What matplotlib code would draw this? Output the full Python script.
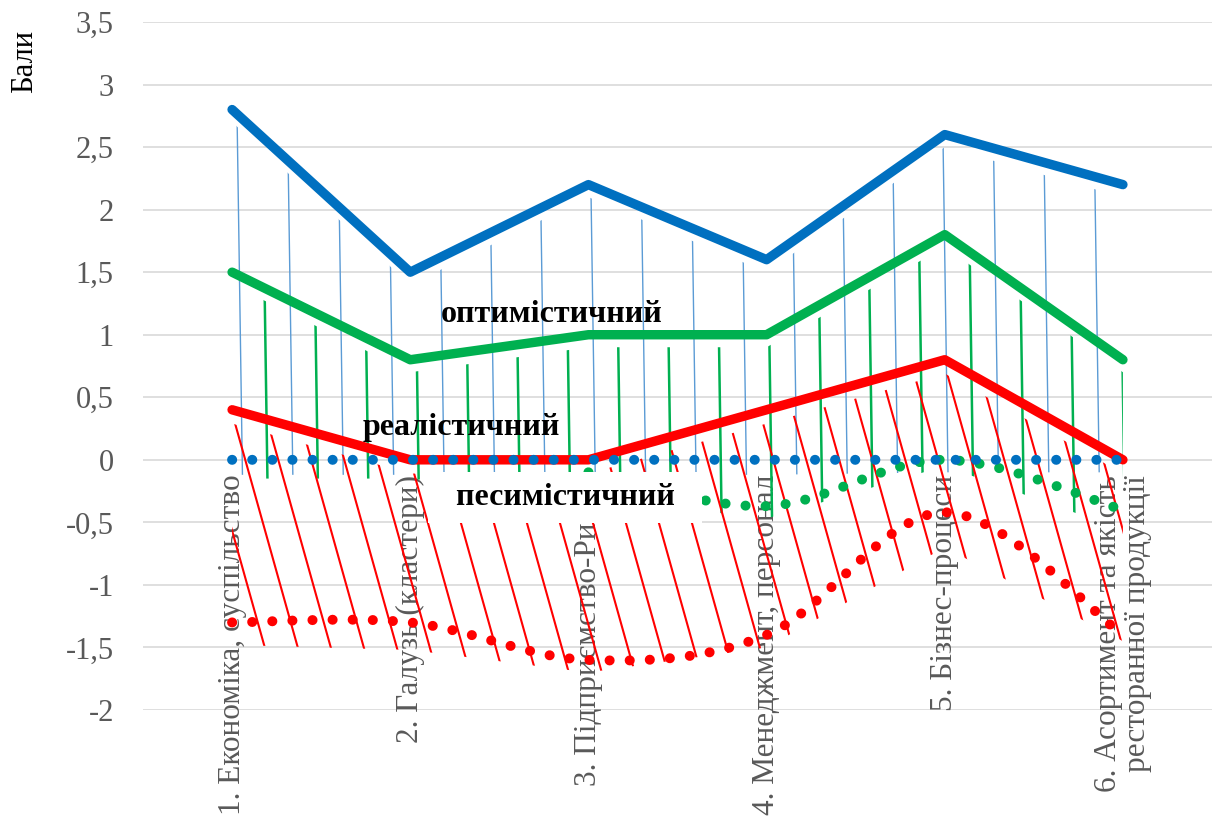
import numpy as np
import matplotlib
matplotlib.use('Agg')
import matplotlib.pyplot as plt
from matplotlib.path import Path
from matplotlib.patches import PathPatch, Polygon
from matplotlib.collections import LineCollection

CATEGORIES = [
    '1. Економіка, суспільство',
    '2. Галузь (кластери)',
    '3. Підприємство-Ринок',
    '4. Менеджмент, персонал',
    '5. Бізнес-процеси',
    '6. Асортимент та якість\nресторанної продукції',
]

BLUE_SCORES = [2.8, 1.5, 2.2, 1.6, 2.6, 2.2]
GREEN_SCORES = [1.5, 0.8, 1.0, 1.0, 1.8, 0.8]
RED_SCORES = [0.4, 0.0, 0.0, 0.4, 0.8, 0.0]

BLUE_DOTTED = [0.0, 0.0, 0.0, 0.0, 0.0, 0.0]
GREEN_DOTTED = [np.nan, np.nan, -0.1, -0.37, 0.0, -0.4]
RED_DOTTED = [-1.3, -1.3, -1.6, -1.4, -0.42, -1.4]

# lower edges of the hand drawn hatching under each line
BLUE_HATCH_FLOOR = [-0.12, -0.12, -0.12, -0.12, -0.1, -0.1]
GREEN_HATCH_FLOOR = [-0.15, -0.15, -0.3, -0.47, -0.05, -0.56]
RED_HATCH_FLOOR = [-1.48, -1.52, -1.7, -1.5, -0.7, -1.45]

Y_TICKS = [-2, -1.5, -1, -0.5, 0, 0.5, 1, 1.5, 2, 2.5, 3, 3.5]
Y_TICK_LABELS = ['-2', '-1,5', '-1', '-0,5', '0', '0,5', '1', '1,5', '2', '2,5', '3', '3,5']

BLUE = '#0070C0'
LIGHT_BLUE = '#5B9BD5'
GREEN = '#00B050'
RED = '#FF0000'
GRID = '#D9D9D9'
TEXT_GRAY = '#595959'

FIG_W, FIG_H = 1214, 827
AX_LEFT, AX_RIGHT, AX_TOP, AX_BOTTOM = 143, 1212, 22, 710
Y_MIN, Y_MAX = -2, 3.5
PX_PER_X = (AX_RIGHT - AX_LEFT) / 6
PX_PER_Y = (AX_BOTTOM - AX_TOP) / (Y_MAX - Y_MIN)


def smooth_path(xs, ys):
    # excel style smoothed line: catmull-rom turned into bezier segments
    pts = np.column_stack([xs, ys]).astype(float)
    pts = pts[np.isfinite(pts[:, 1])]
    n = len(pts)
    verts = [pts[0]]
    codes = [Path.MOVETO]
    for i in range(n - 1):
        p_prev = pts[max(i - 1, 0)]
        p_next2 = pts[min(i + 2, n - 1)]
        verts += [pts[i] + (pts[i + 1] - p_prev) / 6,
                  pts[i + 1] - (p_next2 - pts[i]) / 6,
                  pts[i + 1]]
        codes += [Path.CURVE4] * 3
    return Path(verts, codes)


def dotted(ax, values, color):
    path = smooth_path(np.arange(len(values)), values)
    patch = PathPatch(path, facecolor='none', edgecolor=color, lw=7.2,
                      linestyle=(0, (0.01, 2.0)), capstyle='round', zorder=4)
    ax.add_patch(patch)


def hatch(ax, top, floor, anchors, y_anchor, slope, color, lw):
    xs = np.arange(len(top))
    outline = np.column_stack([np.r_[xs, xs[::-1]],
                               np.r_[top, np.asarray(floor)[::-1]]])
    clip = Polygon(outline, closed=True, transform=ax.transData,
                   facecolor='none', edgecolor='none')
    k = slope * PX_PER_Y / PX_PER_X
    segs = [[(x0 - k * (Y_MAX - y_anchor), Y_MAX), (x0 + k * (y_anchor - Y_MIN), Y_MIN)]
            for x0 in anchors]
    lines = LineCollection(segs, colors=color, linewidths=lw, zorder=2)
    ax.add_collection(lines)
    lines.set_clip_path(clip)


def main():
    plt.rcParams['font.family'] = ['Liberation Serif', 'DejaVu Serif']
    fig = plt.figure(figsize=(FIG_W / 100, FIG_H / 100), dpi=100)
    ax = fig.add_axes([AX_LEFT / FIG_W, 1 - AX_BOTTOM / FIG_H,
                       (AX_RIGHT - AX_LEFT) / FIG_W, (AX_BOTTOM - AX_TOP) / FIG_H])
    x = np.arange(len(CATEGORIES))

    # hatching
    step = 50.4 / PX_PER_X
    hatch(ax, np.array(BLUE_SCORES) - 0.1, BLUE_HATCH_FLOOR,
          np.arange(0.02, 5, step), Y_MAX, 0.015, LIGHT_BLUE, 1.0)
    hatch(ax, np.array(GREEN_SCORES) - 0.1, GREEN_HATCH_FLOOR,
          np.arange(0.16, 5, step), Y_MAX, 0.015, GREEN, 1.8)
    hatch(ax, np.array(RED_SCORES) - 0.11, RED_HATCH_FLOOR,
          1.0 + np.arange(-9, 28) * 33 / PX_PER_X, 0.0, 0.28, RED, 1.5)

    for vals, col in [(BLUE_SCORES, BLUE), (GREEN_SCORES, GREEN), (RED_SCORES, RED)]:
        ax.plot(x, vals, color=col, lw=6.8, solid_capstyle='round',
                solid_joinstyle='round', zorder=3)

    dotted(ax, RED_DOTTED, RED)
    dotted(ax, GREEN_DOTTED, GREEN)
    dotted(ax, BLUE_DOTTED, BLUE)

    for i, name in enumerate(CATEGORIES):
        ax.text(i, -0.12, name, rotation=90, ha='center', va='top',
                multialignment='right', linespacing=1.0, fontsize=22.5,
                color=TEXT_GRAY, zorder=1)

    bold = dict(fontsize=23, fontweight='bold', color='black', ha='center',
                va='baseline')
    ax.text(1.796, 1.103, 'оптимістичний', zorder=5, **bold)
    ax.text(1.285, 0.2, 'реалістичний', zorder=5, **bold)
    ax.text(1.869, -0.36, '  песимістичний  ', zorder=6,
            bbox=dict(boxstyle='square,pad=0.35', facecolor='white', edgecolor='none'),
            **bold)

    ax.set_xlim(-0.5, 5.5)
    ax.set_ylim(Y_MIN, Y_MAX)
    ax.set_xticks([])
    ax.set_yticks(Y_TICKS)
    ax.set_yticklabels(Y_TICK_LABELS)
    ax.tick_params(axis='y', length=0, pad=21, labelsize=22, labelcolor=TEXT_GRAY)
    ax.yaxis.grid(True, color=GRID, lw=1.2)
    ax.set_axisbelow(True)
    for sp in ax.spines.values():
        sp.set_visible(False)

    fig.text(0.0206, 0.926, 'Бали', rotation=90, ha='center', va='center', fontsize=22)
    fig.savefig('out.png', dpi=100)


if __name__ == '__main__':
    main()
